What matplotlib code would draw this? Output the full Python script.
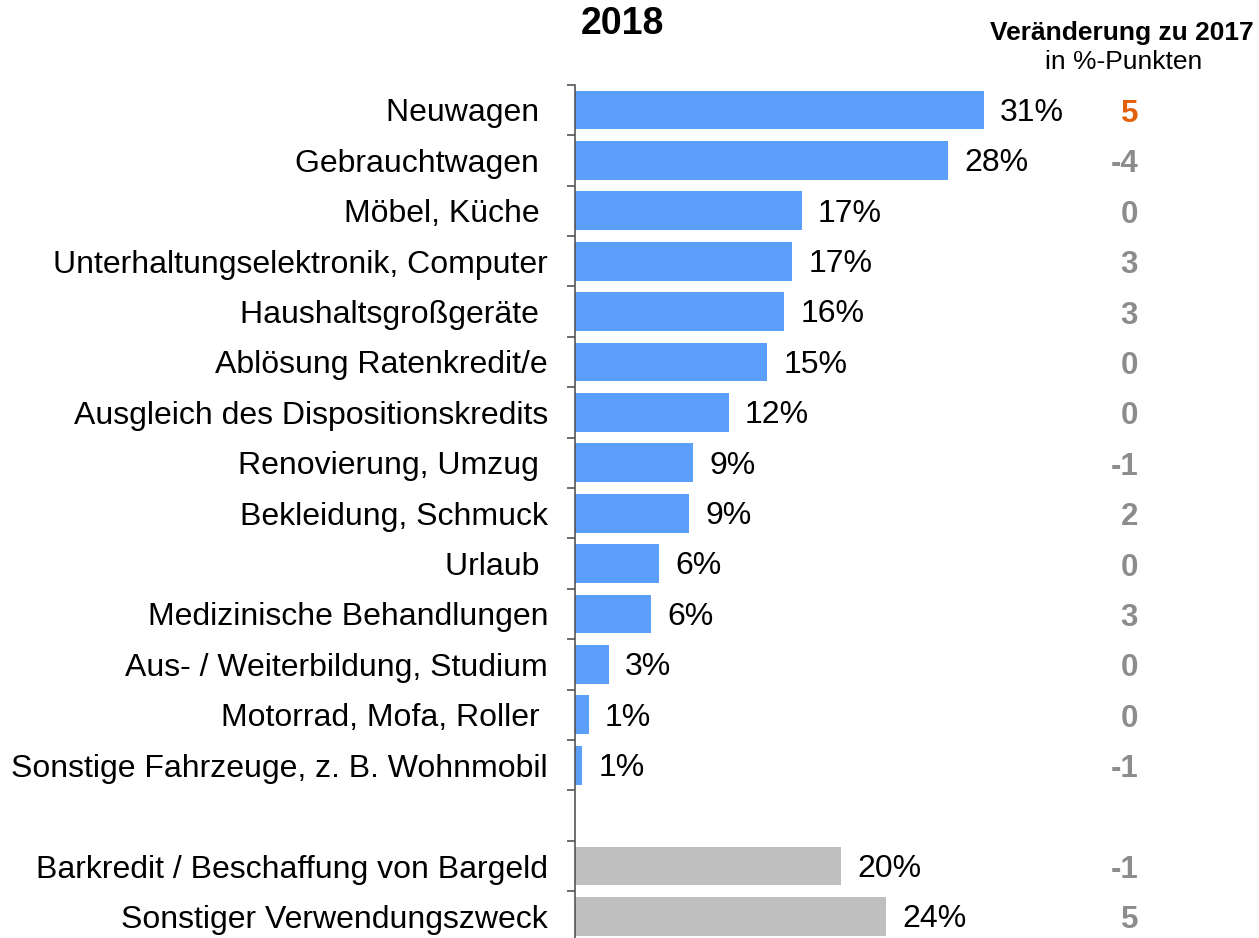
import matplotlib
matplotlib.use("Agg")
import matplotlib.pyplot as plt
import matplotlib.transforms as mtransforms

plt.rcParams['font.family'] = ['Liberation Sans', 'DejaVu Sans']

categories = [
    "Neuwagen ", "Gebrauchtwagen ", "Möbel, Küche ",
    "Unterhaltungselektronik, Computer", "Haushaltsgroßgeräte ",
    "Ablösung Ratenkredit/e", "Ausgleich des Dispositionskredits",
    "Renovierung, Umzug ", "Bekleidung, Schmuck", "Urlaub ",
    "Medizinische Behandlungen", "Aus- / Weiterbildung, Studium",
    "Motorrad, Mofa, Roller ", "Sonstige Fahrzeuge, z. B. Wohnmobil",
    "", "Barkredit / Beschaffung von Bargeld", "Sonstiger Verwendungszweck",
]
values = [31.0, 28.3, 17.2, 16.5, 15.9, 14.6, 11.7, 9.0, 8.7, 6.4, 5.8,
          2.6, 1.1, 0.6, None, 20.2, 23.6]
value_labels = ["31%", "28%", "17%", "17%", "16%", "15%", "12%", "9%", "9%",
                "6%", "6%", "3%", "1%", "1%", "", "20%", "24%"]
changes = ["5", "-4", "0", "3", "3", "0", "0", "-1", "2", "0", "3", "0",
           "0", "-1", "", "-1", "5"]
groups = ["main"] * 14 + [None] + ["other"] * 2

BLUE = "#5c9ffa"
GRAY = "#bfbfbf"
CHG_GRAY = "#8c8c8c"
ORANGE = "#e3600a"

W, H = 1259, 938
fig = plt.figure(figsize=(W / 100, H / 100), dpi=100)
n = len(categories)
row_h = 50.4
top_px = 84.8
bottom_px = top_px + n * row_h
ax_left = 574.5 / W
ax_width = 660 / W
ax = fig.add_axes([ax_left, (H - bottom_px) / H, ax_width, (bottom_px - top_px) / H])

ys = list(range(n))
for y, v, g in zip(ys, values, groups):
    if v is None:
        continue
    ax.barh(y, v, height=0.77, color=BLUE if g == "main" else GRAY,
            edgecolor="none", zorder=2)

for y, v, lab in zip(ys, values, value_labels):
    if v is None:
        continue
    ax.annotate(lab, xy=(v, y), xytext=(11.5, -2), textcoords="offset points",
                ha="left", va="center", fontsize=23, color="black")

ax.set_xlim(0, 50)
ax.set_ylim(n - 0.5, -0.5)

ax.set_yticks(ys)
ax.set_yticklabels(categories, fontsize=23)
ax.tick_params(axis="y", which="major", length=0, pad=19)
ax.set_yticks([i - 0.5 for i in range(n + 1)], minor=True)
ax.tick_params(axis="y", which="minor", length=6, width=1.2, color="#555555",
               direction="out")
ax.set_xticks([])
for s in ["top", "right", "bottom"]:
    ax.spines[s].set_visible(False)
ax.spines["left"].set_color("#555555")
ax.spines["left"].set_linewidth(1.2)

trans = mtransforms.blended_transform_factory(fig.transFigure, ax.transData)
for i, (y, c) in enumerate(zip(ys, changes)):
    if not c:
        continue
    col = ORANGE if i == 0 else CHG_GRAY
    ax.text(1138 / W, y + 0.08, c, transform=trans, ha="right", va="center",
            fontsize=22.5, fontweight="bold", color=col, clip_on=False)

fig.text(622 / W, 1 - 24 / H, "2018", ha="center", va="center",
         fontsize=27, fontweight="bold")
fig.text(1122 / W, 1 - 33 / H, "Veränderung zu 2017", ha="center",
         va="center", fontsize=19, fontweight="bold")
fig.text(1124 / W, 1 - 62 / H, "in %-Punkten", ha="center", va="center",
         fontsize=19)

fig.savefig("out.png", dpi=100)
